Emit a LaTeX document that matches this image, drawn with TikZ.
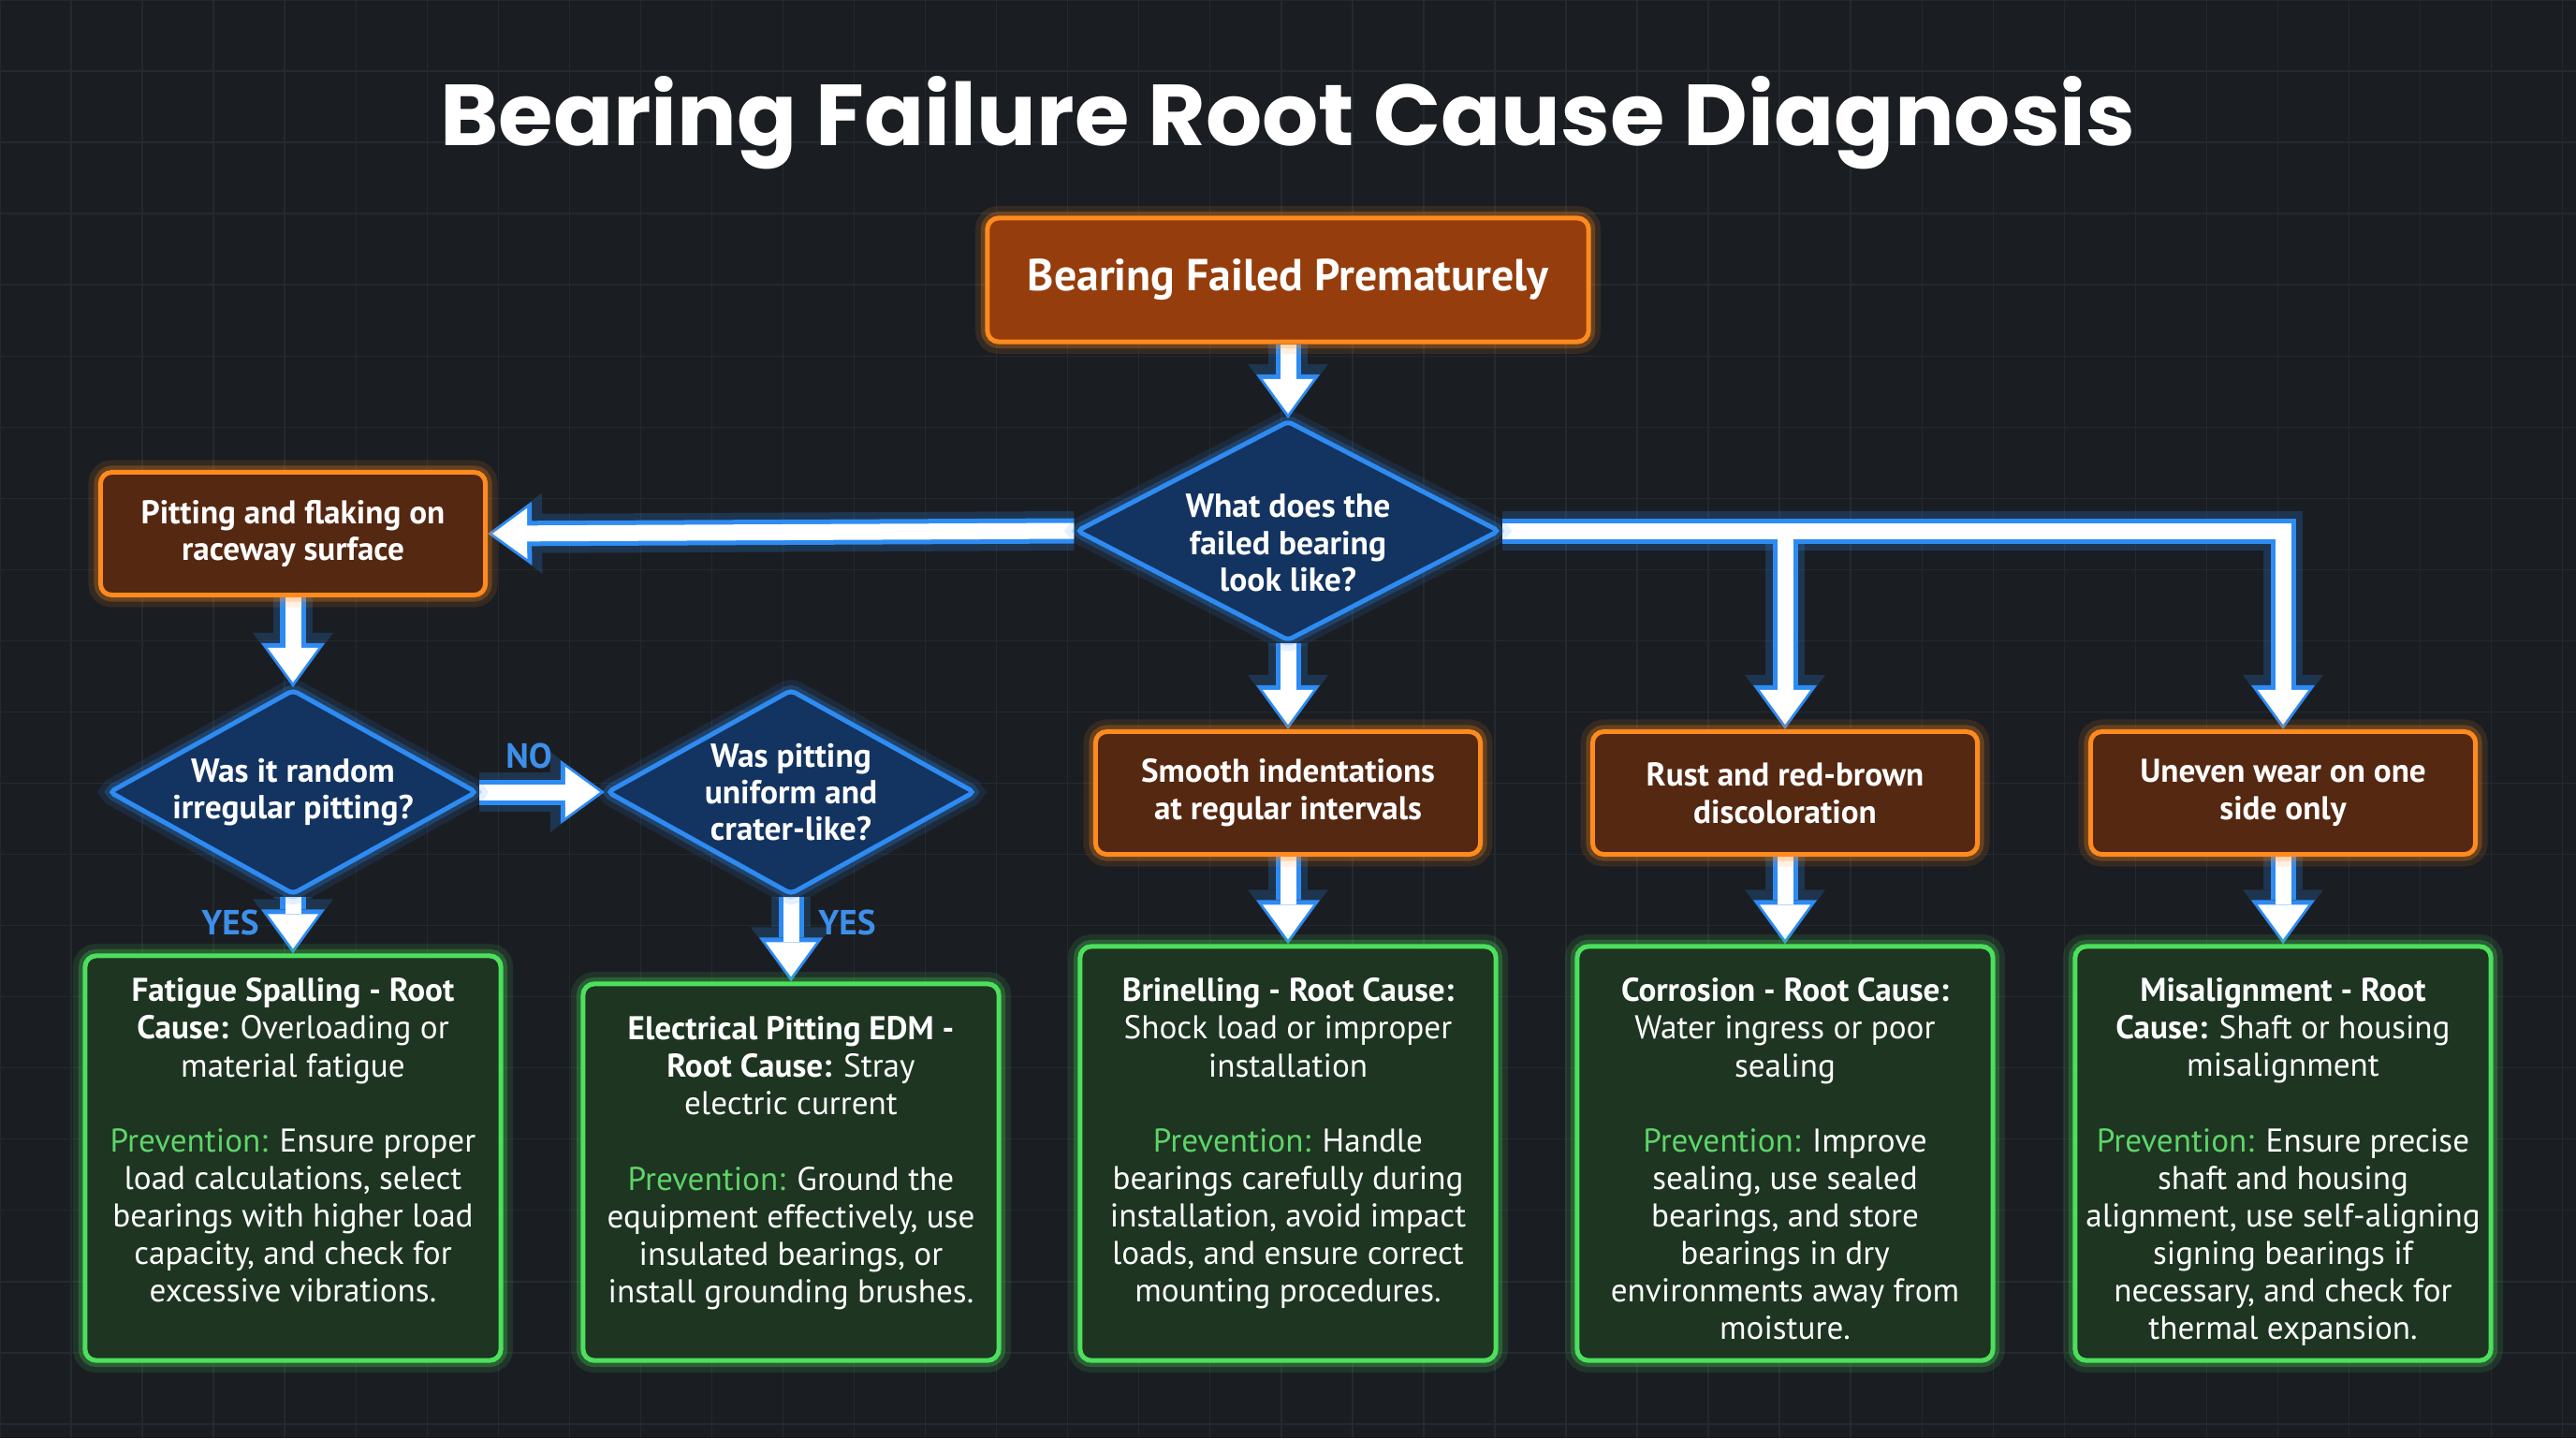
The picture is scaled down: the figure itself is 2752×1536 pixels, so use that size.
\documentclass[tikz,border=0pt]{standalone}
\usepackage{fontspec}
\setmainfont{PT Sans}
\newfontfamily\titlefont{Poppins}
\usetikzlibrary{shapes.geometric,arrows.meta}
\pgfdeclarelayer{bglayer}
\pgfdeclarelayer{connlayer}
\pgfsetlayers{bglayer,connlayer,main}
\definecolor{bgc}{HTML}{1A1D22}
\definecolor{gridc}{HTML}{232A2F}
\definecolor{orB}{HTML}{FF8A1E}
\definecolor{orF}{HTML}{552812}
\definecolor{orTop}{HTML}{953D0C}
\definecolor{blB}{HTML}{2E8BF2}
\definecolor{blF}{HTML}{133461}
\definecolor{grB}{HTML}{4CE05C}
\definecolor{grF}{HTML}{1D3521}
\definecolor{grT}{HTML}{5FD46A}
\definecolor{lblc}{HTML}{3D8FEA}
\newcommand\prevw{{\color{grT}Prevention:}}
\newcommand\lowerfirst{\rule{0pt}{14.5pt}}
\newcommand\conns[1]{%
 \draw[#1] (top.south) -- (d1.north);
 \draw[#1] (d1.west) -- (pit.east);
 \draw[#1] (d1.east) -- (uneven.north |- d1.east) -- (uneven.north);
 \draw[#1] (rust.north |- d1.east) -- (rust.north);
 \draw[#1] (d1.south) -- (smooth.north);
 \draw[#1] (pit.south) -- (d2.north);
 \draw[#1] (d2.east) -- (d3.west);
 \draw[#1] (d2.south) -- (g1.north);
 \draw[#1] (d3.south) -- (g2.north);
 \draw[#1] (smooth.south) -- (g3.north);
 \draw[#1] (rust.south) -- (g4.north);
 \draw[#1] (uneven.south) -- (g5.north);
}
\tikzset{
 glowO/.style={preaction={draw=orB, draw opacity=0.12, line width=0.26cm},
               preaction={draw=orB, draw opacity=0.25, line width=0.14cm}},
 glowB/.style={preaction={draw=blB, draw opacity=0.12, line width=0.26cm},
               preaction={draw=blB, draw opacity=0.25, line width=0.14cm}},
 glowG/.style={preaction={draw=grB, draw opacity=0.12, line width=0.26cm},
               preaction={draw=grB, draw opacity=0.25, line width=0.14cm}},
 obox/.style={rectangle, rounded corners=0.12cm, draw=orB, line width=0.05cm,
   fill=orF, glowO, text=white, align=center, inner sep=0pt,
   font=\bfseries\fontsize{10}{11.3}\selectfont,
   minimum width=4.11cm, minimum height=1.31cm},
 topbox/.style={obox, fill=orTop, minimum width=6.42cm, minimum height=1.32cm,
   font=\bfseries\fontsize{13.6}{16}\selectfont},
 dia/.style={diamond, draw=blB, line width=0.05cm, fill=blF, glowB,
   rounded corners=0.05cm, text=white, align=center, inner sep=-0.4cm,
   font=\bfseries\fontsize{10.1}{11.2}\selectfont},
 gbox/.style={rectangle, rounded corners=0.12cm, draw=grB, line width=0.05cm,
   fill=grF, glowG, minimum width=4.44cm, inner sep=0pt},
 gtext/.style={text=white, align=center, inner sep=0pt, anchor=north,
   font=\fontsize{10}{11.4}\selectfont},
 lbl/.style={text=lblc, inner sep=0pt, font=\bfseries\fontsize{10.6}{12}\selectfont},
 arrglow/.style={draw=blB, opacity=0.22, line width=0.42cm, line join=miter,
   -{Triangle[length=0.58cm, width=0.86cm, line width=0pt]}},
 arrout/.style={draw=blB, line width=0.27cm, line join=miter,
   -{Triangle[length=0.47cm, width=0.68cm, line width=0pt]}},
 arrin/.style={draw=white, line width=0.17cm, line join=miter, shorten >=0.05cm,
   -{Triangle[length=0.37cm, width=0.54cm, line width=0pt]}},
}
\begin{document}
\begin{tikzpicture}[x=0.01cm, y=-0.01cm]
\useasboundingbox (0,0) rectangle (2752,1536);
\begin{pgfonlayer}{bglayer}
\fill[bgc] (0,0) rectangle (2752,1536);
\draw[gridc, line width=0.4pt, step=0.76cm] (0,0) grid (2752,1536);
\end{pgfonlayer}

\node[inner sep=0pt, anchor=base, text=white] (title) at (1376,155)
  {\resizebox{18.1cm}{0.74cm}{\titlefont\bfseries Bearing Failure Root Cause Diagnosis}};

\node[topbox] (top) at (1376,299) {Bearing Failed Prematurely};
\node[dia, minimum width=4.52cm, minimum height=2.35cm] (d1) at (1376,567)
  {\lowerfirst What does the\\failed bearing\\look like?};

\node[obox] (pit) at (313,570) {Pitting and flaking on\\raceway surface};
\node[obox] (smooth) at (1376,847) {Smooth indentations\\at regular intervals};
\node[obox] (rust) at (1907,847) {Rust and red-brown\\discoloration};
\node[obox] (uneven) at (2439,847) {Uneven wear on one\\side only};

\node[dia, minimum width=3.93cm, minimum height=2.19cm] (d2) at (313,846)
  {Was it random\\irregular pitting?};
\node[dia, minimum width=3.93cm, minimum height=2.19cm] (d3) at (845,846)
  {Was pitting\\uniform and\\crater-like?};

\node[lbl] (no) at (565,807) {NO};
\node[lbl] (yes1) at (246,985) {YES};
\node[lbl] (yes2) at (905,985) {YES};

\node[gbox, minimum height=4.32cm] (g1) at (313,1237) {};
\node[gbox, minimum height=4.02cm] (g2) at (845,1252) {};
\node[gbox, minimum height=4.42cm] (g3) at (1376,1232) {};
\node[gbox, minimum height=4.42cm] (g4) at (1907,1232) {};
\node[gbox, minimum height=4.42cm] (g5) at (2439,1232) {};

\node[gtext] (g1t) at (313,1044) {\textbf{Fatigue Spalling - Root}\\\textbf{Cause:} Overloading or\\material fatigue\\[11.4pt]
 \prevw{} Ensure proper\\load calculations, select\\bearings with higher load\\capacity, and check for\\excessive vibrations.};
\node[gtext] (g2t) at (845,1085) {\textbf{Electrical Pitting EDM -}\\\textbf{Root Cause:} Stray\\electric current\\[11.4pt]
 \prevw{} Ground the\\equipment effectively, use\\insulated bearings, or\\install grounding brushes.};
\node[gtext] (g3t) at (1376,1044) {\textbf{Brinelling - Root Cause:}\\Shock load or improper\\installation\\[11.4pt]
 \prevw{} Handle\\bearings carefully during\\installation, avoid impact\\loads, and ensure correct\\mounting procedures.};
\node[gtext] (g4t) at (1907,1044) {\textbf{Corrosion - Root Cause:}\\Water ingress or poor\\sealing\\[11.4pt]
 \prevw{} Improve\\sealing, use sealed\\bearings, and store\\bearings in dry\\environments away from\\moisture.};
\node[gtext] (g5t) at (2439,1044) {\textbf{Misalignment - Root}\\\textbf{Cause:} Shaft or housing\\misalignment\\[11.4pt]
 \prevw{} Ensure precise\\shaft and housing\\alignment, use self-aligning\\signing bearings if\\necessary, and check for\\thermal expansion.};

\begin{pgfonlayer}{connlayer}
\conns{arrglow}
\conns{arrout}
\conns{arrin}
\end{pgfonlayer}
\end{tikzpicture}
\end{document}
